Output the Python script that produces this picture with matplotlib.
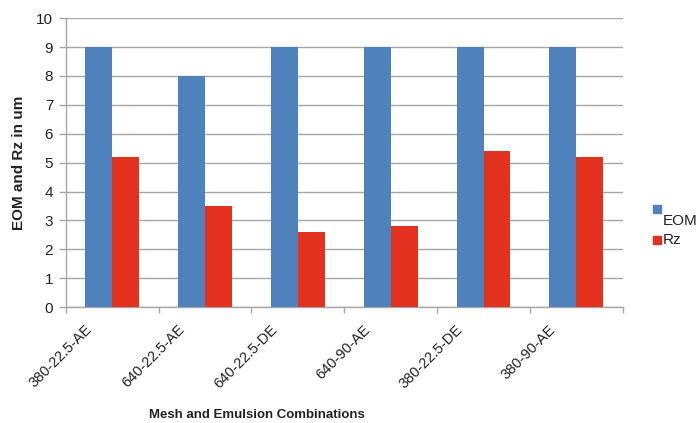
import matplotlib
matplotlib.use("Agg")
import matplotlib.pyplot as plt
from matplotlib.patches import Rectangle
import numpy as np

plt.rcParams['font.family'] = ['Liberation Sans', 'DejaVu Sans']

categories = ["380-22.5-AE", "640-22.5-AE", "640-22.5-DE", "640-90-AE", "380-22.5-DE", "380-90-AE"]
eom = [9, 8, 9, 9, 9, 9]
rz = [5.2, 3.5, 2.6, 2.8, 5.4, 5.2]
yticks = list(range(0, 11))
series_names = ["EOM", "Rz"]
series_colors = ["#4F81BD", "#E2321F"]

fig = plt.figure(figsize=(6.99, 4.23), dpi=100)
ax = fig.add_axes([0.094, 0.274, 0.797, 0.683])

x = np.arange(len(categories))
w = 0.29
ax.bar(x - w / 2, eom, w, color=series_colors[0], zorder=3)
ax.bar(x + w / 2, rz, w, color=series_colors[1], zorder=3)

ax.set_xlim(-0.5, len(categories) - 0.5)
ax.set_ylim(0, 10)
ax.set_yticks(yticks)
ax.set_yticklabels([str(t) for t in yticks], fontsize=11, color="#222222")
ax.yaxis.grid(True, color="#A6A6A6", linewidth=1.0, zorder=0)
ax.tick_params(axis="y", length=5, color="#A6A6A6", width=1.0, pad=4)

# category boundary ticks on the x axis
ax.set_xticks(np.arange(-0.5, len(categories), 1.0))
ax.set_xticklabels([])
ax.tick_params(axis="x", length=4, color="#A6A6A6", width=1.0)
for i, lab in enumerate(categories):
    ax.annotate(lab, xy=(i, 0), xycoords=("data", "axes fraction"),
                xytext=(-20, -11), textcoords="offset points",
                rotation=45, ha="right", va="top", rotation_mode="anchor",
                fontsize=10.5, color="#222222")

for side in ("top", "right"):
    ax.spines[side].set_visible(False)
for side in ("left", "bottom"):
    ax.spines[side].set_color("#A6A6A6")
    ax.spines[side].set_linewidth(1.0)

fig.text(0.027, 0.615, "EOM and Rz in um", rotation=90, ha="center", va="center",
         fontsize=11, fontweight="bold", color="#222222")
fig.text(0.368, 0.019, "Mesh and Emulsion Combinations", ha="center", va="center",
         fontsize=9.5, fontweight="bold", color="#222222")

# legend: square swatches with labels to the right
sw = 0.011
fig.patches.append(Rectangle((0.934, 1 - 213 / 423), sw, sw * 699 / 423,
                             transform=fig.transFigure, color=series_colors[0]))
fig.text(0.948, 1 - 221 / 423, series_names[0], ha="left", va="center",
         fontsize=11, color="#222222")
fig.patches.append(Rectangle((0.934, 1 - 244 / 423), sw, sw * 699 / 423,
                             transform=fig.transFigure, color=series_colors[1]))
fig.text(0.948, 1 - 240 / 423, series_names[1], ha="left", va="center",
         fontsize=11, color="#222222")

fig.savefig("out.png", dpi=100, facecolor="white")
